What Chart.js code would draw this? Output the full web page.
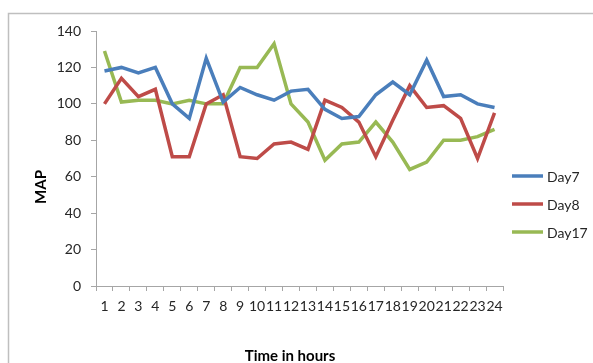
<!DOCTYPE html>
<html>
<head>
<meta charset="utf-8">
<script src="https://cdn.jsdelivr.net/npm/chart.js"></script>
<style>
  html, body { margin: 0; padding: 0; background: #fff; }
  #wrap { width: 593px; height: 363px; position: relative; }
</style>
</head>
<body>
<div id="wrap"><canvas id="mapChart" width="593" height="363"></canvas></div>
<script>
// data
const hours = ['1','2','3','4','5','6','7','8','9','10','11','12','13','14','15','16','17','18','19','20','21','22','23','24'];
const day7  = [118, 120, 117, 120, 100, 92, 125, 101, 109, 105, 102, 107, 108, 97, 92, 93, 105, 112, 105, 124, 104, 105, 100, 98];
const day8  = [100, 114, 104, 108, 71, 71, 100, 105, 71, 70, 78, 79, 75, 102, 98, 90, 71, 91, 110, 98, 99, 92, 70, 95];
const day17 = [129, 101, 102, 102, 100, 102, 100, 100, 120, 120, 133, 100, 90, 69, 78, 79, 90, 79, 64, 68, 80, 80, 82, 86];
const yTicks = [0, 20, 40, 60, 80, 100, 120, 140];

const textColor = '#262626';
const axisColor = '#a6a6a6';
const fontFamily = 'Lato, "Open Sans", sans-serif';

// frame, axis titles and legend drawn around the plot
const extras = {
    id: 'extras',
    beforeDraw(chart) {
        const c = chart.ctx;
        c.save();
        c.strokeStyle = '#bfbfbf';
        c.lineWidth = 1.5;
        c.beginPath();
        c.moveTo(8.5, 363);
        c.lineTo(8.5, 13.5);
        c.lineTo(593, 13.5);
        c.stroke();
        c.restore();
    },
    afterDraw(chart) {
        const c = chart.ctx;
        const area = chart.chartArea;
        c.save();
        c.fillStyle = '#000';
        c.font = 'bold 15px ' + fontFamily;
        c.textAlign = 'center';
        c.textBaseline = 'middle';
        c.fillText('Time in hours', 290, 356);
        c.translate(41, 187);
        c.rotate(-Math.PI / 2);
        c.fillText('MAP', 0, 0);
        c.restore();

        c.save();
        c.font = '14px ' + fontFamily;
        c.textBaseline = 'middle';
        chart.data.datasets.forEach((ds, i) => {
            const y = 176 + i * 28;
            const x = area.right + 9;
            c.strokeStyle = ds.borderColor;
            c.lineWidth = 3.5;
            c.beginPath();
            c.moveTo(x, y);
            c.lineTo(x + 31, y);
            c.stroke();
            c.fillStyle = textColor;
            c.fillText(ds.label, x + 35, y + 1);
        });
        c.restore();
    }
};

new Chart(document.getElementById('mapChart'), {
    type: 'line',
    data: {
        labels: hours,
        datasets: [
            { label: 'Day7', data: day7, borderColor: '#4a7ebb', backgroundColor: '#4a7ebb' },
            { label: 'Day8', data: day8, borderColor: '#be4b48', backgroundColor: '#be4b48' },
            { label: 'Day17', data: day17, borderColor: '#98b954', backgroundColor: '#98b954' }
        ]
    },
    options: {
        responsive: false,
        animation: false,
        events: [],
        elements: {
            line: { borderWidth: 3.5, tension: 0, borderJoinStyle: 'miter' },
            point: { radius: 0 }
        },
        layout: { padding: { left: 20, top: 31, right: 90, bottom: 0 } },
        plugins: {
            legend: { display: false },
            tooltip: { enabled: false }
        },
        scales: {
            x: {
                offset: true,
                grid: { display: true, offset: true, drawOnChartArea: false, color: axisColor, tickLength: 5 },
                border: { color: axisColor, width: 1 },
                ticks: { color: textColor, font: { family: fontFamily, size: 14 }, padding: 7, maxRotation: 0, autoSkip: false },
                afterFit(scale) { scale.height = 77; }
            },
            y: {
                min: 0,
                max: 140,
                afterBuildTicks(scale) { scale.ticks = yTicks.map(v => ({ value: v })); },
                grid: { display: true, drawOnChartArea: false, color: axisColor, tickLength: 5 },
                border: { color: axisColor, width: 1 },
                ticks: { color: textColor, font: { family: fontFamily, size: 14 }, padding: 10 },
                afterFit(scale) { scale.width = 76; }
            }
        }
    },
    plugins: [extras]
});
</script>
</body>
</html>
